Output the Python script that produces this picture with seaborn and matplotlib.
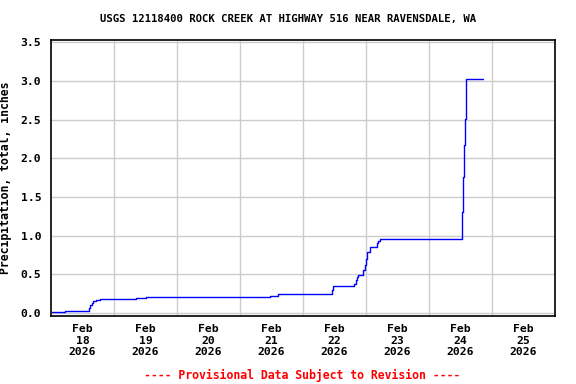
import pandas as pd
import seaborn as sns
import matplotlib.pyplot as plt

# Hours after 2026-02-18 00:00 and cumulative precipitation (inches)
hours = [0.25, 5.3, 14.0, 14.5, 15.0, 15.5, 16.0, 17.0, 18.5, 32.5, 36.0,
         83.5, 86.5, 99.8, 107.0, 107.5, 115.5, 116.0, 116.5, 117.0, 119.0,
         119.5, 120.0, 120.5, 121.5, 124.0, 124.5, 125.3, 139.3, 156.7,
         157.0, 157.5, 157.8, 158.2, 164.7]
precip = [0.01, 0.02, 0.03, 0.06, 0.10, 0.13, 0.15, 0.17, 0.18, 0.19, 0.20,
          0.22, 0.24, 0.25, 0.30, 0.35, 0.37, 0.42, 0.47, 0.49, 0.55,
          0.62, 0.70, 0.79, 0.85, 0.90, 0.93, 0.95, 0.96, 1.30,
          1.76, 2.17, 2.51, 3.02, 3.02]
day_labels = ["Feb\n18\n2026", "Feb\n19\n2026", "Feb\n20\n2026", "Feb\n21\n2026",
              "Feb\n22\n2026", "Feb\n23\n2026", "Feb\n24\n2026", "Feb\n25\n2026"]
y_ticks = [0.0, 0.5, 1.0, 1.5, 2.0, 2.5, 3.0, 3.5]

start = pd.Timestamp("2026-02-18")
df = pd.DataFrame({"time": start + pd.to_timedelta(hours, unit="h"),
                   "precip": precip})

sns.set_style("white")
plt.rcParams['font.family'] = ['DejaVu Sans Mono']
plt.rcParams['font.weight'] = 'bold'
for k in ['text.color', 'axes.labelcolor', 'xtick.color', 'ytick.color']:
    plt.rcParams[k] = 'black'

fig = plt.figure(figsize=(5.76, 3.84), dpi=100)
ax = fig.add_axes([51 / 576, 1 - 316 / 384, 504 / 576, 276 / 384])

sns.lineplot(data=df, x="time", y="precip", ax=ax, color="#0000ff",
             linewidth=1.0, estimator=None, drawstyle="steps-post")

ax.set_xlim(start, start + pd.Timedelta(days=8))
ax.set_ylim(-0.04, 3.53)

# labels at noon, grid at midnight
noons = [start + pd.Timedelta(hours=12 + 24 * i) for i in range(8)]
mids = [start + pd.Timedelta(days=i) for i in range(1, 8)]
ax.set_xticks(noons)
ax.set_xticklabels(day_labels, fontsize=8.2, fontweight="bold", linespacing=1.15)
ax.set_xticks(mids, minor=True)
ax.tick_params(axis="x", which="both", length=0, pad=6)
ax.grid(False)
ax.grid(True, which="minor", axis="x", color="#cccccc", linewidth=1)

ax.set_yticks(y_ticks)
ax.set_yticklabels([f"{v:.1f}" for v in y_ticks], fontsize=8.2, fontweight="bold")
ax.tick_params(axis="y", length=0, pad=7)
ax.grid(True, which="major", axis="y", color="#cccccc", linewidth=1)
ax.set_axisbelow(True)

ax.set_xlabel("")
ax.set_ylabel("Precipitation, total, inches", fontsize=8.3, fontweight="bold", labelpad=6)

for s in ax.spines.values():
    s.set_color("black")
    s.set_linewidth(1.2)

fig.text(0.5, 1 - 19 / 384, "USGS 12118400 ROCK CREEK AT HIGHWAY 516 NEAR RAVENSDALE, WA",
         ha="center", va="center", fontsize=7.7, fontweight="bold")
fig.text(0.525, 1 - 375 / 384, "---- Provisional Data Subject to Revision ----",
         ha="center", va="center", fontsize=8.3, fontweight="bold", color="red")

fig.savefig("out.png", dpi=100)
plt.close(fig)
